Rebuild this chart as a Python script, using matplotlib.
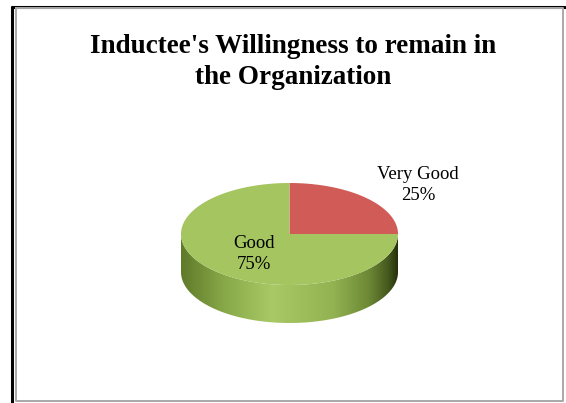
import matplotlib
matplotlib.use("Agg")
import matplotlib.pyplot as plt
from matplotlib.patches import Polygon
from matplotlib.colors import LinearSegmentedColormap
import numpy as np

# data
categories = ["Very Good", "Good"]
values = [25, 75]
colors = ["#D05B57", "#A4C560"]
title = "Inductee's Willingness to remain in\nthe Organization"

# layout (pixel space, y down)
W, H = 566, 403
cx, cy = 289.5, 234.0
rx, ry = 108.5, 51.0
depth = 38.0
label_pos = {"Very Good": (418, 185), "Good": (254, 254)}

plt.rcParams["font.family"] = ["Liberation Serif", "DejaVu Serif"]

fig = plt.figure(figsize=(W / 100, H / 100), dpi=100)
ax = fig.add_axes([0, 0, 1, 1])
ax.set_xlim(0, W)
ax.set_ylim(H, 0)
ax.axis("off")


def ell(a, dy=0.0):
    return cx + rx * np.cos(a), cy - ry * np.sin(a) + dy


# frame
ax.plot([11, W], [7, 7], color="black", lw=2.2, solid_capstyle="butt")
ax.plot([12, 12], [6, H], color="black", lw=2.2, solid_capstyle="butt")
ax.plot([15.5, 15.5, 563, 563, 15.5], [8, 400.5, 400.5, 8, 8], color="#a8a8a8", lw=1.4)

# side of the cylinder (front half), shaded
a_front = np.linspace(np.pi, 2 * np.pi, 200)
tx, ty = ell(a_front)
bx, by = ell(a_front[::-1], depth)
side = Polygon(np.c_[np.r_[tx, bx], np.r_[ty, by]], closed=True,
               facecolor="none", edgecolor="none")
ax.add_patch(side)
shade = LinearSegmentedColormap.from_list(
    "side",
    [(0.0, "#5f7a2a"), (0.2, "#88a948"), (0.42, "#a8c965"),
     (0.7, "#93b352"), (0.87, "#6c8835"), (0.96, "#43561c"), (1.0, "#25300c")])
grad = np.linspace(0, 1, 256)[None, :]
im = ax.imshow(grad, cmap=shade, aspect="auto",
               extent=[cx - rx, cx + rx, cy + ry + depth, cy - 2], zorder=2)
im.set_clip_path(side)

# top face wedges, clockwise from 12 o'clock
start = 90.0
total = float(sum(values))
for cat, v, c in zip(categories, values, colors):
    sweep = 360.0 * v / total
    a = np.radians(np.linspace(start, start - sweep, 200))
    x, y = ell(a)
    pts = np.c_[np.r_[cx, x], np.r_[cy, y]]
    ax.add_patch(Polygon(pts, closed=True, facecolor=c, edgecolor="none", zorder=3))
    start -= sweep

# labels
for cat, v in zip(categories, values):
    lx, ly = label_pos[cat]
    ax.text(lx, ly, f"{cat}\n{round(100 * v / total)}%", ha="center", va="center",
            fontsize=13.5, color="black", linespacing=1.3, zorder=4)

ax.text(293, 62, title, ha="center", va="center", fontsize=19.5,
        fontweight="bold", linespacing=1.3)

fig.savefig("out.png", dpi=100)
